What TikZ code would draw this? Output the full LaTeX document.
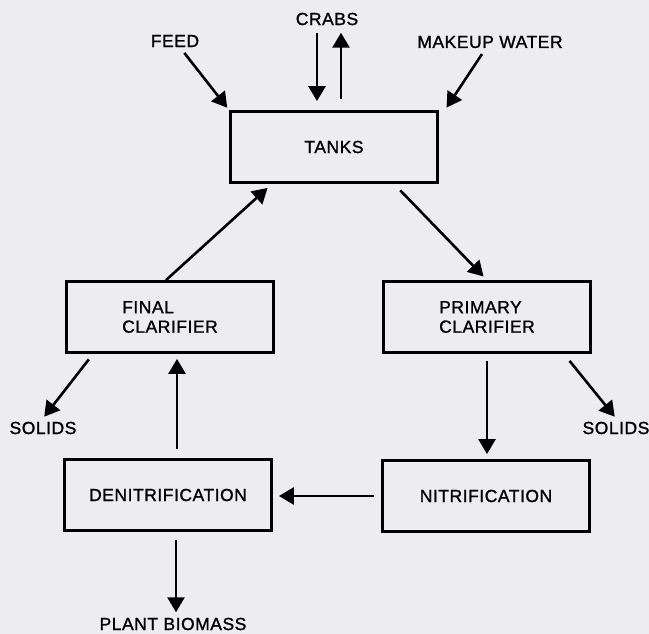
\documentclass[tikz,border=0pt]{standalone}
\usepackage{fontspec}
\setmainfont{Liberation Sans}[LetterSpace=3,FakeBold=1.1]
\usetikzlibrary{arrows.meta}
\definecolor{paper}{RGB}{237,236,238}
\begin{document}
\begin{tikzpicture}[x=1pt,y=-1pt,
    every node/.style={font=\fontsize{17.5}{19.5}\selectfont},
    unit/.style={draw, line width=2.8pt, minimum width=207pt, minimum height=71pt, align=left},
    flow/.style={line width=2.6pt, -{Triangle[length=15pt,width=17pt]}}]
    \fill[paper, use as bounding box] (0,0) rectangle (649,634);

    % Units
    \node[unit] (tanks) at (334,147) {TANKS};
    \node[unit] (final) at (170,317) {FINAL\\CLARIFIER};
    \node[unit] (primary) at (487,317) {PRIMARY\\CLARIFIER};
    \node[unit] (deni) at (168,495) {DENITRIFICATION};
    \node[unit] (nitri) at (486,496) {NITRIFICATION};

    % Inputs and outputs
    \node (feed) at (175,41) {FEED};
    \node (crabs) at (327,19) {CRABS};
    \node (water) at (490,42) {MAKEUP WATER};
    \node (solidsl) at (43,428) {SOLIDS};
    \node (solidsr) at (616,428) {SOLIDS};
    \node (biomass) at (173,624) {PLANT BIOMASS};

    % Flows into the tanks
    \draw[flow, shorten <=3pt, shorten >=3pt] (feed) -- (tanks.north west);
    \draw[flow, shorten <=3pt, shorten >=3pt] (water) -- ([xshift=6pt]tanks.north east);
    \draw[flow, shorten <=4pt, shorten >=9pt] ([xshift=-10pt]crabs.south) -- ([xshift=-10pt]crabs.south |- tanks.north);
    \draw[flow, shorten <=11pt, shorten >=4pt] ([xshift=14pt]crabs.south |- tanks.north) -- ([xshift=14pt]crabs.south);

    % Loop
    \draw[flow, shorten >=6pt] ([xshift=-4pt]final.north) -- ([xshift=-62pt]tanks.south);
    \draw[flow, shorten <=9pt, shorten >=5pt] ([xshift=60pt]tanks.south) -- (primary.north);
    \draw[flow, shorten <=7pt, shorten >=5pt] (primary.south) -- (primary.south |- nitri.north);
    \draw[flow, shorten <=7pt, shorten >=6pt] (nitri.west) -- (nitri.west -| deni.east);
    \draw[flow, shorten <=9pt, shorten >=5pt] ([xshift=9pt]deni.north) -- ([xshift=9pt]deni.north |- final.south);

    % Wastes
    \draw[flow, shorten <=7pt, shorten >=2pt] ([xshift=28pt]final.south west) -- (solidsl.north);
    \draw[flow, shorten <=9pt, shorten >=2pt] ([xshift=-28pt]primary.south east) -- (solidsr.north);
    \draw[flow, shorten <=8pt, shorten >=2pt] ([xshift=8pt]deni.south) -- ([xshift=8pt]deni.south |- biomass.north);
\end{tikzpicture}
\end{document}
